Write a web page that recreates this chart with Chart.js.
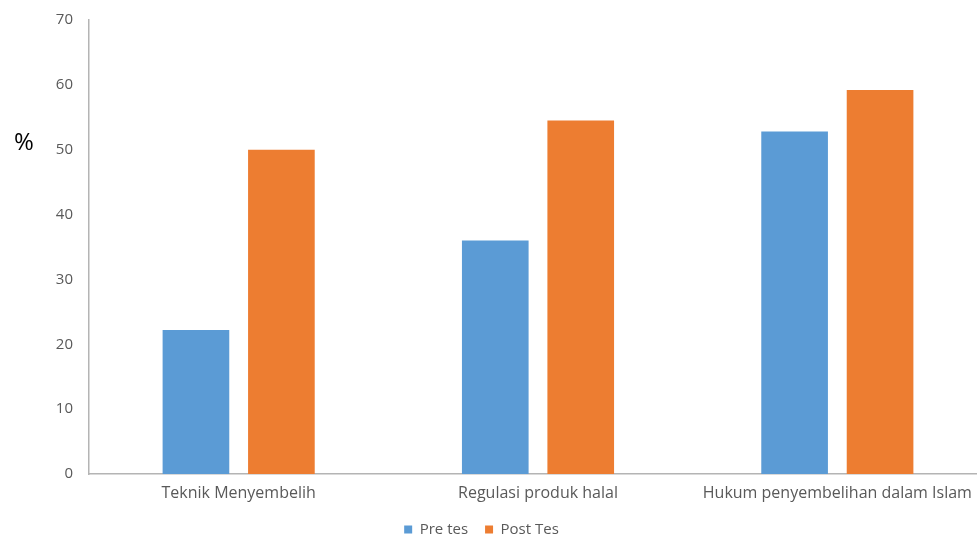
<!DOCTYPE html>
<html><head><meta charset="utf-8">
<script src="https://cdn.jsdelivr.net/npm/chart.js@4.4.0/dist/chart.umd.min.js"></script>
<style>
html,body{margin:0;padding:0;background:#fff;overflow:hidden;width:977px;height:535px;}
#c{position:absolute;left:0;top:0;}
</style></head><body>
<canvas id="c" width="987" height="535"></canvas>
<script>
const categories = ["Teknik Menyembelih", "Regulasi produk halal", "Hukum penyembelihan dalam Islam"];
const preTes = [22.2, 36.0, 52.8];
const postTes = [50.0, 54.5, 59.2];
const seriesNames = ["Pre tes", "Post Tes"];
const yMin = 0, yMax = 70, yStep = 10;
const axisTitle = "%";

const FONT = "'Open Sans', 'DejaVu Sans', sans-serif";
const GRAY_TEXT = "#595959";
const AXIS_LINE = "#b4b4b4";

const shiftLegend = {
  id: 'shiftLegend',
  afterLayout(chart) {
    const lg = chart.legend;
    if (!lg) return;
    const dx = -12, dy = -1;
    lg.left += dx; lg.right += dx;
    lg.top += dy; lg.bottom += dy;
  }
};

const percentLabel = {
  id: 'percentLabel',
  afterDraw(chart) {
    const ctx = chart.ctx;
    ctx.save();
    ctx.font = "24px " + FONT;
    ctx.fillStyle = "#000";
    ctx.textAlign = "center";
    ctx.textBaseline = "middle";
    ctx.fillText(axisTitle, 24, 143);
    ctx.restore();
  }
};

new Chart(document.getElementById('c'), {
  type: 'bar',
  data: {
    labels: categories,
    datasets: [
      { label: seriesNames[0], data: preTes, backgroundColor: '#5B9BD5', borderWidth: 0 },
      { label: seriesNames[1], data: postTes, backgroundColor: '#ED7D31', borderWidth: 0 }
    ]
  },
  options: {
    responsive: false,
    animation: false,
    devicePixelRatio: 1,
    layout: { padding: { top: 20, left: 0, right: 0, bottom: 0 } },
    categoryPercentage: 0.571,
    barPercentage: 0.78,
    plugins: {
      legend: {
        position: 'bottom',
        maxHeight: 29,
        labels: {
          boxWidth: 8, boxHeight: 8, padding: 17,
          color: GRAY_TEXT,
          font: { family: FONT, size: 15 }
        }
      },
      tooltip: { enabled: false },
      title: { display: false }
    },
    scales: {
      x: {
        grid: { display: false, drawTicks: false },
        border: { display: true, color: AXIS_LINE, width: 1.5 },
        ticks: { color: GRAY_TEXT, font: { family: FONT, size: 16 }, padding: 10, maxRotation: 0, autoSkip: false },
        afterFit(scale) { scale.height = 32; }
      },
      y: {
        min: yMin, max: yMax,
        grid: { display: false, drawTicks: false },
        border: { display: true, color: AXIS_LINE, width: 1.5 },
        ticks: { stepSize: yStep, color: GRAY_TEXT, font: { family: FONT, size: 15 }, padding: 16 },
        afterFit(scale) { scale.width = 89; scale.paddingTop = 0; scale.paddingBottom = 0; }
      }
    }
  },
  plugins: [shiftLegend, percentLabel]
});
</script>
</body></html>
